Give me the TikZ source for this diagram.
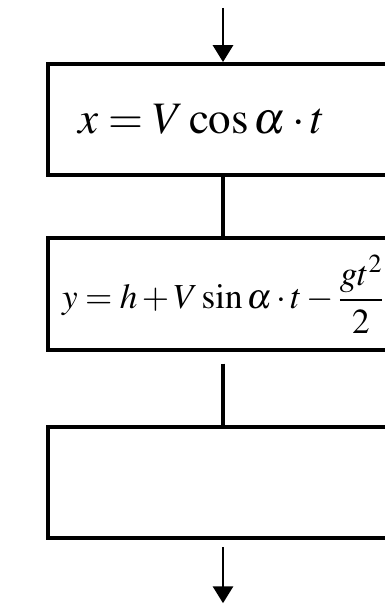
\documentclass[tikz,border=0pt]{standalone}
\usepackage{amsmath}
\usepackage{mathptmx}
\usepackage{tikz}
\usetikzlibrary{positioning,arrows.meta}

\begin{document}
\begin{tikzpicture}[
    box/.style={draw, line width=2.8pt, minimum height=2.78cm, align=left,
                inner xsep=0.75cm, text width=7.25cm},
    link/.style={line width=2.6pt},
    arrow/.style={line width=1.8pt, -{Triangle[width=0.5cm, length=0.42cm]}}
  ]
    \path[use as bounding box, clip] (0,0) rectangle (9.625,-15.125);
    \node[box, font=\fontsize{32}{36}\selectfont] (xbox) at (5.575,-2.99)
      {$x = V\cos\alpha\cdot t$};
    \node[box, inner xsep=0.35cm, text width=8.05cm,
          font=\fontsize{25}{28}\selectfont] (ybox) at (5.575,-7.35)
      {$y = h + V\sin\alpha\cdot t - \dfrac{gt^2}{2}$};
    \node[box] (empty) at (5.575,-12.06) {};
    \coordinate (in) at (5.575,-0.2);
    \coordinate (out) at (5.575,-15.08);
    \draw[arrow] (in) -- (xbox);
    \draw[link] (xbox) -- (ybox);
    \draw[link, shorten <=0.3cm] (ybox) -- (empty);
    \draw[arrow, shorten <=0.18cm] (empty) -- (out);
  \end{tikzpicture}
\end{document}
